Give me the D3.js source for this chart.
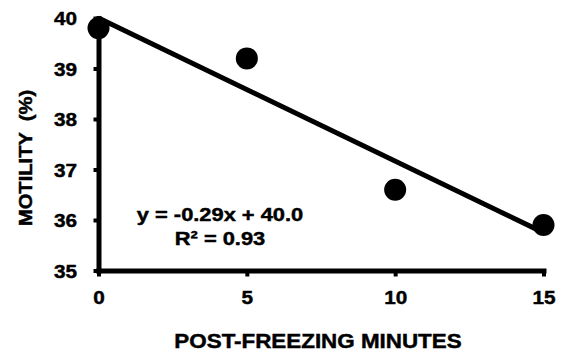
<!DOCTYPE html>
<html><head><meta charset="utf-8">
<script src="https://cdn.jsdelivr.net/npm/d3@7"></script>
<style>html,body{margin:0;padding:0;background:#fff;} svg{display:block}</style>
</head><body>
<script>
const minutes = [0, 5, 10, 15];
const motility = [39.8, 39.2, 36.6, 35.9];
const trendMinutes = [0, 15];
const trendMotility = [40.0, 35.75];
const xTicks = [0, 5, 10, 15];
const yTicks = [35, 36, 37, 38, 39, 40];
const equationLines = ["y = -0.29x + 40.0", "R\u00B2 = 0.93"];
const xTitle = "POST-FREEZING MINUTES";
const yTitle = "MOTILITY  (%)";

const W = 566, H = 358;
const FONT = "'Liberation Sans', Arial, Helvetica, sans-serif";
const SX = 1.12;
const svg = d3.select("body").append("svg").attr("width", W).attr("height", H)
  .style("font-family", FONT).style("font-weight", "bold");

const x = d3.scaleLinear().domain([0, 15]).range([98.5, 543.5]);
const y = d3.scaleLinear().domain([35, 40]).range([270.5, 18]);

function heavy(sel) {
  return sel.attr("fill", "#000").attr("stroke", "#000").attr("stroke-width", 0.45)
    .style("font-family", FONT).style("font-weight", "bold");
}

// Y axis
const gy = svg.append("g").attr("transform", `translate(${x(0)},0)`)
  .call(d3.axisLeft(y).tickValues(yTicks).tickSize(5).tickSizeOuter(0).tickFormat(d3.format("d")));
gy.select(".domain").attr("stroke", "#000").attr("stroke-width", 5).attr("stroke-linecap", "square");
gy.selectAll(".tick line").attr("stroke", "#000").attr("stroke-width", 4);
heavy(gy.selectAll(".tick text").attr("x", 0).attr("dy", "0.36em")
  .attr("transform", `translate(-21.5,0) scale(${SX},1)`)
  .style("font-size", "18.5px"));

// X axis
const gx = svg.append("g").attr("transform", `translate(0,${y(35)})`)
  .call(d3.axisBottom(x).tickValues(xTicks).tickSize(6).tickSizeOuter(0).tickFormat(d3.format("d")));
gx.select(".domain").attr("stroke", "#000").attr("stroke-width", 5).attr("stroke-linecap", "square");
gx.selectAll(".tick line").attr("stroke", "#000").attr("stroke-width", 4);
heavy(gx.selectAll(".tick text").attr("y", 0).attr("dy", null)
  .attr("transform", `translate(0,33) scale(${SX},1)`)
  .style("font-size", "18.5px"));

// Trend line
const line = d3.line().x(d => x(d[0])).y(d => y(d[1]));
svg.append("path")
  .datum(trendMinutes.map((m, i) => [m, trendMotility[i]]))
  .attr("d", line).attr("fill", "none").attr("stroke", "#000").attr("stroke-width", 5);

// Points
svg.append("g").selectAll("circle")
  .data(minutes.map((m, i) => [m, motility[i]]))
  .join("circle")
  .attr("cx", d => x(d[0])).attr("cy", d => y(d[1])).attr("r", 11).attr("fill", "#000");

// Equation
heavy(svg.append("g").selectAll("text").data(equationLines).join("text")
  .attr("text-anchor", "middle")
  .attr("transform", (d, i) => `translate(220,${221 + i * 24}) scale(1.15,1)`)
  .style("font-size", "19px")
  .text(d => d));

// Axis titles
heavy(svg.append("text").attr("text-anchor", "middle")
  .attr("transform", `translate(318,348) scale(1.12,1)`)
  .style("font-size", "20px")
  .text(xTitle));

heavy(svg.append("text").attr("text-anchor", "middle")
  .attr("transform", `translate(32,158) rotate(-90) scale(${SX},1)`)
  .style("font-size", "18px").style("white-space", "pre")
  .attr("xml:space", "preserve")
  .text(yTitle));
</script>
</body></html>
